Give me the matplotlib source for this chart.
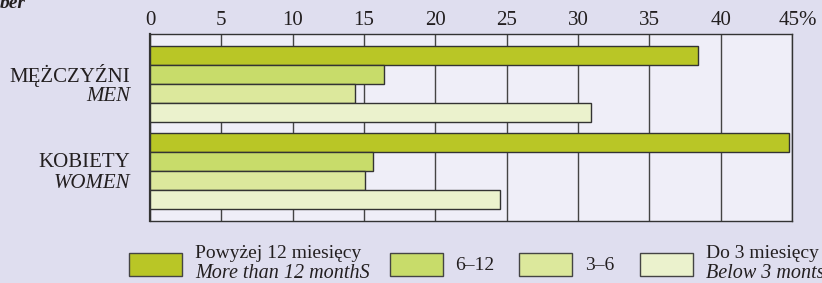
import numpy as np
import matplotlib.pyplot as plt
import matplotlib.transforms as mtransforms
from matplotlib.patches import Rectangle

plt.rcParams['font.family'] = ['Liberation Serif', 'DejaVu Serif']

# data (percent)
groups_pl = ['MĘŻCZYŹNI', 'KOBIETY']
groups_en = ['MEN', 'WOMEN']
series_pl = ['Powyżej 12 miesięcy', '6–12', '3–6', 'Do 3 miesięcy']
series_en = ['More than 12 monthS', '', '', 'Below 3 monts']
men = [38.4, 16.4, 14.4, 30.9]
women = [44.8, 15.6, 15.1, 24.5]
ticks = [0, 5, 10, 15, 20, 25, 30, 35, 40, 45]
tick_labels = ['0', '5', '10', '15', '20', '25', '30', '35', '40', '45%']

colors = ['#b9c626', '#c8dc6a', '#dce89c', '#ebf2cd']
bg = '#dfdeef'
axbg = '#efeef8'
edge = '#333333'
txt = '#231f20'

fig = plt.figure(figsize=(8.22, 2.83), dpi=100, facecolor=bg)
ax = fig.add_axes([150 / 822, 62 / 283, 642 / 822, 187 / 283])
ax.set_facecolor(axbg)

group_step = 4.58
first_top = 0.63
for g, vals in enumerate([men, women]):
    for i, v in enumerate(vals):
        y = first_top + g * group_step + i + 0.5
        ax.barh(y, v, height=1.0, color=colors[i], edgecolor=edge,
                linewidth=1.0, zorder=3)

ax.set_xlim(0, 45)
ax.set_ylim(187 / 19, 0)
ax.set_xticks(ticks)
ax.set_xticklabels(tick_labels, fontsize=15, color=txt)
ax.xaxis.tick_top()
ax.tick_params(axis='x', length=0, pad=3)
ax.set_yticks([])
ax.grid(axis='x', color='#444444', linewidth=1.0, zorder=0)
for s in ax.spines.values():
    s.set_color(edge)
    s.set_linewidth(1.0)
ax.spines['left'].set_linewidth(1.6)

# keep "45" centred on its tick, "%" hanging to the right
last = ax.get_xticklabels()[-1]
last.set_transform(last.get_transform() +
                   mtransforms.ScaledTranslation(6 / 100, 0, fig.dpi_scale_trans))

# category labels
for g in range(2):
    yc = first_top + g * group_step + 2.0
    ax.text(-1.4, yc - 0.45, groups_pl[g], ha='right', va='center',
            fontsize=15, color=txt)
    ax.text(-1.4, yc + 0.65, groups_en[g], ha='right', va='center',
            fontsize=15, style='italic', color=txt)

fig.text(0.0, 1 - 3 / 283, 'ber', fontsize=14, style='italic', weight='bold',
         ha='left', va='center', color=txt)

# legend drawn by hand
W, H = 822, 283
patch_x = [129, 390, 519, 640]
text_x = [195, 455, 585, 706]
for i in range(4):
    fig.patches.append(Rectangle((patch_x[i] / W, (H - 276) / H), 53 / W, 23 / H,
                                 transform=fig.transFigure, facecolor=colors[i],
                                 edgecolor='#444444', linewidth=1.0))
    if series_en[i]:
        fig.text(text_x[i] / W, (H - 253) / H, series_pl[i], fontsize=14,
                 ha='left', va='center', color=txt)
        fig.text(text_x[i] / W, (H - 273) / H, series_en[i], fontsize=14.5,
                 style='italic', ha='left', va='center', color=txt)
    else:
        fig.text(text_x[i] / W, (H - 265) / H, series_pl[i], fontsize=14,
                 ha='left', va='center', color=txt)

fig.savefig('out.png', dpi=100, facecolor=bg)
